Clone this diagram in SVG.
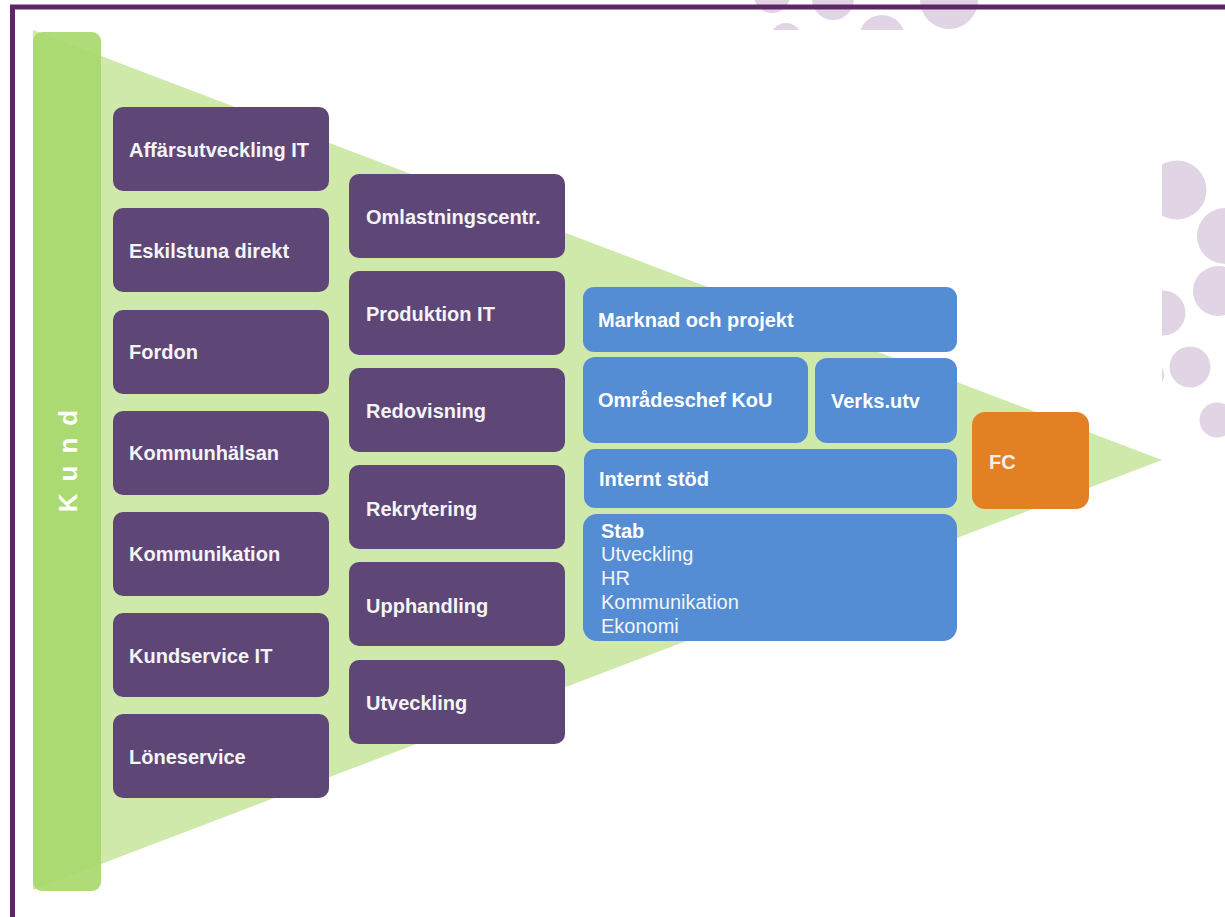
<svg xmlns="http://www.w3.org/2000/svg" width="1225" height="917" viewBox="0 0 1225 917">
<defs>
<style>
.bg{fill:#ffffff}
.dot{fill:#e1d4e4}
.tri{fill:#cfe9aa}
.kund{fill:#a9d86e;fill-opacity:0.92}
.p{fill:#5e4777}
.b{fill:#548dd4}
.o{fill:#e38023}
.t{font-family:"Liberation Sans",Arial,sans-serif;font-size:20px;font-weight:bold;fill:#f4f4f4}
.r{font-family:"Liberation Sans",Arial,sans-serif;font-size:20px;fill:#f4f4f4}
</style>
<clipPath id="topclip"><rect x="700" y="0" width="320" height="30"/></clipPath>
<clipPath id="rightclip"><rect x="1162" y="140" width="63" height="320"/></clipPath>
</defs>
<rect class="bg" x="0" y="0" width="1225" height="917"/>
<g id="decor">
<g clip-path="url(#topclip)">
<circle class="dot" cx="772" cy="-5" r="18"/>
<circle class="dot" cx="833" cy="-1" r="21"/>
<circle class="dot" cx="949" cy="0" r="29"/>
<circle class="dot" cx="786" cy="39" r="16"/>
<circle class="dot" cx="882" cy="38" r="23"/>
</g>
<g clip-path="url(#rightclip)">
<circle class="dot" cx="1177" cy="190" r="29.5"/>
<circle class="dot" cx="1225" cy="236" r="28"/>
<circle class="dot" cx="1218" cy="291" r="25"/>
<circle class="dot" cx="1163" cy="313" r="22.5"/>
<circle class="dot" cx="1190" cy="367" r="20.5"/>
<circle class="dot" cx="1150" cy="375" r="14"/>
<circle class="dot" cx="1217" cy="420" r="17.5"/>
</g>
</g>
<rect id="frame" x="12.5" y="7" width="1240" height="940" fill="none" stroke="#5d2664" stroke-width="5"/>
<polygon id="triangle" class="tri" points="33,30 1162,460 33,890"/>
<g id="kund">
<rect class="kund" x="33" y="32" width="68" height="859" rx="9"/>
<text class="t" transform="translate(77,455) rotate(-90)" text-anchor="middle" style="font-size:26px;letter-spacing:12px;fill:#ffffff">Kund</text>
</g>
<g id="affarsutveckling"><rect class="p" x="113" y="107" width="216" height="84" rx="10"/><text class="t" x="129" y="157">Affärsutveckling IT</text></g>
<g id="eskilstuna"><rect class="p" x="113" y="208" width="216" height="84" rx="10"/><text class="t" x="129" y="258">Eskilstuna direkt</text></g>
<g id="fordon"><rect class="p" x="113" y="310" width="216" height="84" rx="10"/><text class="t" x="129" y="359">Fordon</text></g>
<g id="kommunhalsan"><rect class="p" x="113" y="411" width="216" height="84" rx="10"/><text class="t" x="129" y="460">Kommunhälsan</text></g>
<g id="kommunikation"><rect class="p" x="113" y="512" width="216" height="84" rx="10"/><text class="t" x="129" y="561">Kommunikation</text></g>
<g id="kundservice"><rect class="p" x="113" y="613" width="216" height="84" rx="10"/><text class="t" x="129" y="663">Kundservice IT</text></g>
<g id="loneservice"><rect class="p" x="113" y="714" width="216" height="84" rx="10"/><text class="t" x="129" y="764">Löneservice</text></g>
<g id="omlastning"><rect class="p" x="349" y="174" width="216" height="84" rx="10"/><text class="t" x="366" y="224">Omlastningscentr.</text></g>
<g id="produktion"><rect class="p" x="349" y="271" width="216" height="84" rx="10"/><text class="t" x="366" y="321">Produktion IT</text></g>
<g id="redovisning"><rect class="p" x="349" y="368" width="216" height="84" rx="10"/><text class="t" x="366" y="418">Redovisning</text></g>
<g id="rekrytering"><rect class="p" x="349" y="465" width="216" height="84" rx="10"/><text class="t" x="366" y="516">Rekrytering</text></g>
<g id="upphandling"><rect class="p" x="349" y="562" width="216" height="84" rx="10"/><text class="t" x="366" y="613">Upphandling</text></g>
<g id="utveckling"><rect class="p" x="349" y="660" width="216" height="84" rx="10"/><text class="t" x="366" y="710">Utveckling</text></g>
<g id="marknad"><rect class="b" x="583" y="287" width="374" height="65" rx="11"/><text class="t" x="598" y="327" style="fill:#ffffff">Marknad och projekt</text></g>
<g id="omradeschef"><rect class="b" x="583" y="357" width="225" height="86" rx="12"/><text class="t" x="598" y="407" style="fill:#ffffff">Områdeschef KoU</text></g>
<g id="verksutv"><rect class="b" x="815" y="358" width="142" height="85" rx="12"/><text class="t" x="831" y="408" style="fill:#ffffff">Verks.utv</text></g>
<g id="internt"><rect class="b" x="584" y="449" width="373" height="59" rx="11"/><text class="t" x="599" y="486" style="fill:#ffffff">Internt stöd</text></g>
<g id="stab"><rect class="b" x="583" y="514" width="374" height="127" rx="14"/>
<text class="t" x="601" y="538" style="fill:#ffffff">Stab</text>
<text class="r" x="601" y="561">Utveckling</text>
<text class="r" x="601" y="585">HR</text>
<text class="r" x="601" y="609">Kommunikation</text>
<text class="r" x="601" y="633">Ekonomi</text>
</g>
<g id="fc"><rect class="o" x="972" y="412" width="117" height="97" rx="13"/><text class="t" x="989" y="469" style="fill:#f6f0ea">FC</text></g>
<g id="connectors"></g>
</svg>
